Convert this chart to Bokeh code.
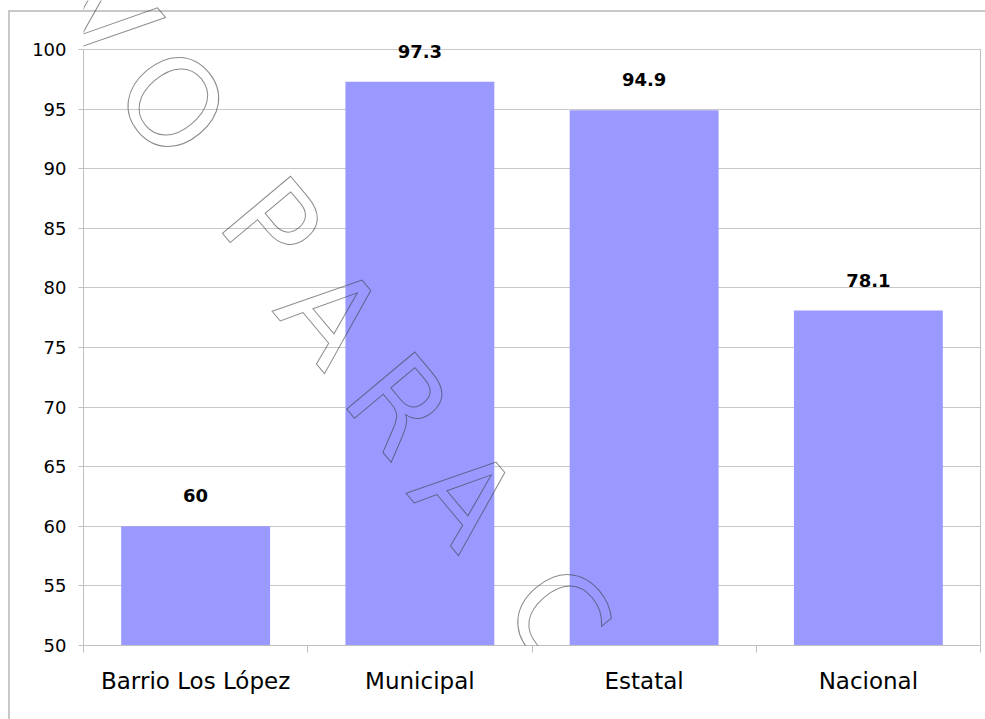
from bokeh.plotting import figure
from bokeh.models import Range1d, FixedTicker, LabelSet, Label, ColumnDataSource
from bokeh.core.properties import value
from bokeh.embed import file_html
from bokeh.resources import INLINE

# ---- data ----
categories = ["Barrio Los López", "Municipal", "Estatal", "Nacional"]
values = [60, 97.3, 94.9, 78.1]
value_labels = ["60", "97.3", "94.9", "78.1"]
y_ticks = [50, 55, 60, 65, 70, 75, 80, 85, 90, 95, 100]

# watermark (decoration): letters and approximate page-pixel centres
wm_letters = ["V", "O", "P", "A", "R", "A", "C"]
wm_px = [(103, 16), (171, 103), (270, 225), (330, 315), (398, 405), (464, 497), (557, 616)]

# ---- layout (pixels) ----
W, H = 985, 719
PL, PT, PR, PB = 83, 49, 980, 645      # plot-area box
ML, MR, MT, MB = PL, 4, 0, H - PB
Y0, Y1 = 50, 100
n = len(categories)
ppu_y = (PB - PT) / (Y1 - Y0)
ppu_x = (PR - PL) / n
y_top = Y1 + PT / ppu_y
x_right = n + (W - MR - PR) / ppu_x
centers = [i + 0.5 for i in range(n)]

p = figure(width=W, height=H, output_backend="svg", toolbar_location=None,
           x_range=Range1d(0, x_right), y_range=Range1d(Y0, y_top),
           min_border_left=ML, min_border_right=MR, min_border_top=MT, min_border_bottom=MB)
p.background_fill_color = None
p.border_fill_color = None
p.outline_line_color = None
p.styles = {"background": "linear-gradient(#c8c8c8,#c8c8c8) 8px 10px / 2px 100% no-repeat, "
                          "linear-gradient(#c8c8c8,#c8c8c8) 8px 10px / 100% 2px no-repeat, #ffffff"}

grid_col = "#c8c8c8"
p.xgrid.grid_line_color = None
p.ygrid.grid_line_color = grid_col
p.ygrid.ticker = FixedTicker(ticks=y_ticks)

# y axis
p.yaxis.bounds = (Y0, Y1)
p.yaxis.ticker = FixedTicker(ticks=y_ticks)
p.yaxis.axis_line_color = "#c0c0c0"
p.yaxis.major_tick_line_color = "#c0c0c0"
p.yaxis.major_tick_out = 5
p.yaxis.major_tick_in = 0
p.yaxis.minor_tick_line_color = None
p.yaxis.major_label_standoff = 12
p.yaxis.major_label_text_font = "DejaVu Sans"
p.yaxis.major_label_text_font_size = "18px"
p.yaxis.major_label_text_color = "black"

# x axis: labels at centres, small ticks at category boundaries
p.xaxis.bounds = (0, n)
p.xaxis.ticker = FixedTicker(ticks=centers, minor_ticks=list(range(n + 1)))
p.xaxis.major_label_overrides = {c: cat for c, cat in zip(centers, categories)}
p.xaxis.axis_line_color = "#c0c0c0"
p.xaxis.major_tick_line_color = None
p.xaxis.major_tick_out = 0
p.xaxis.major_tick_in = 0
p.xaxis.minor_tick_line_color = "#c0c0c0"
p.xaxis.minor_tick_out = 7
p.xaxis.minor_tick_in = 0
p.xaxis.major_label_standoff = 15
p.xaxis.major_label_text_font = "DejaVu Sans"
p.xaxis.major_label_text_font_size = "23px"
p.xaxis.major_label_text_color = "black"

# right border of plot area
p.segment(x0=[n], y0=[Y0], x1=[n], y1=[Y1], line_color="#c0c0c0", line_width=1)

src = ColumnDataSource(dict(x=centers, top=values, label=value_labels, cat=categories))
p.vbar(x="x", top="top", bottom=Y0, width=0.664, source=src,
       fill_color="#9999FF", line_color=None)

p.add_layout(LabelSet(x="x", y="top", text="label", source=src, y_offset=24,
                      text_align="center", text_baseline="alphabetic",
                      text_font=value("DejaVu Sans"), text_font_style=value("bold"),
                      text_font_size=value("18px"), text_color="black"))

# watermark
for ch, (px, py) in zip(wm_letters, wm_px):
    xd = (px - PL) / ppu_x
    yd = Y1 - (py - PT) / ppu_y
    p.add_layout(Label(x=xd, y=yd, text=ch, angle=-50, angle_units="deg",
                       text_align="center", text_baseline="middle",
                       text_font="DejaVu Sans", text_font_size="122px",
                       text_color=(0, 0, 0, 0.0),
                       text_outline_color=(60, 60, 60, 0.6)))

open("out.html", "w").write(file_html(p, INLINE))
